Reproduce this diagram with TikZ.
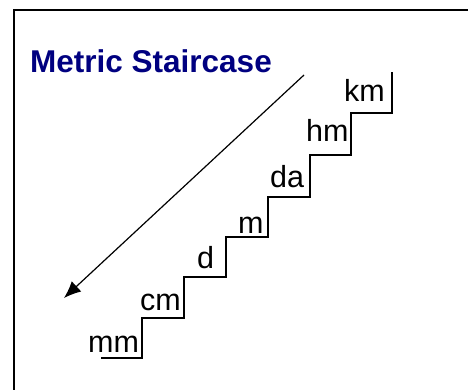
\documentclass[tikz,border=0pt]{standalone}
\usepackage{fontspec}
\setmainfont{Liberation Sans}
\usetikzlibrary{arrows.meta}
\definecolor{titleblue}{RGB}{0,0,128}
\begin{document}
\begin{tikzpicture}[x=1pt,y=-1pt,
  unit/.style={anchor=base west,inner sep=0pt,font=\fontsize{30.5}{36}\selectfont},
  stairline/.style={line width=1.3pt,black},
  arrowline/.style={line width=1.2pt,-{Latex[length=17pt,width=14pt]}}]
\useasboundingbox (0,0) rectangle (468,390);
\clip (0,0) rectangle (468,390);
\draw[line width=1.4pt] (14,10) rectangle (480,400);
\node[anchor=base west,inner sep=0pt,text=titleblue,font=\bfseries\fontsize{31.5}{36}\selectfont] (title) at (30,73) {Metric Staircase};
% staircase
\coordinate (s0) at (101,358);
\draw[stairline] (s0) -- (142,358) -- (142,318) -- (184,318) -- (184,277) -- (226,277) -- (226,237)
  -- (268,237) -- (268,197) -- (310,197) -- (310,155) -- (351,155) -- (351,113) -- (392,113) -- (392,72) coordinate (s7);
\node[unit] (mm) at (88,352) {mm};
\node[unit] (cm) at (140,310) {cm};
\node[unit] (d) at (197,268) {d};
\node[unit] (m) at (238,233) {m};
\node[unit] (da) at (270,187) {da};
\node[unit] (hm) at (306,142) {hm};
\node[unit] (km) at (344,102) {km};
% arrow
\coordinate (a0) at (304,75);
\coordinate (a1) at (64,298);
\draw[arrowline] (a0) -- (a1);
\end{tikzpicture}
\end{document}
